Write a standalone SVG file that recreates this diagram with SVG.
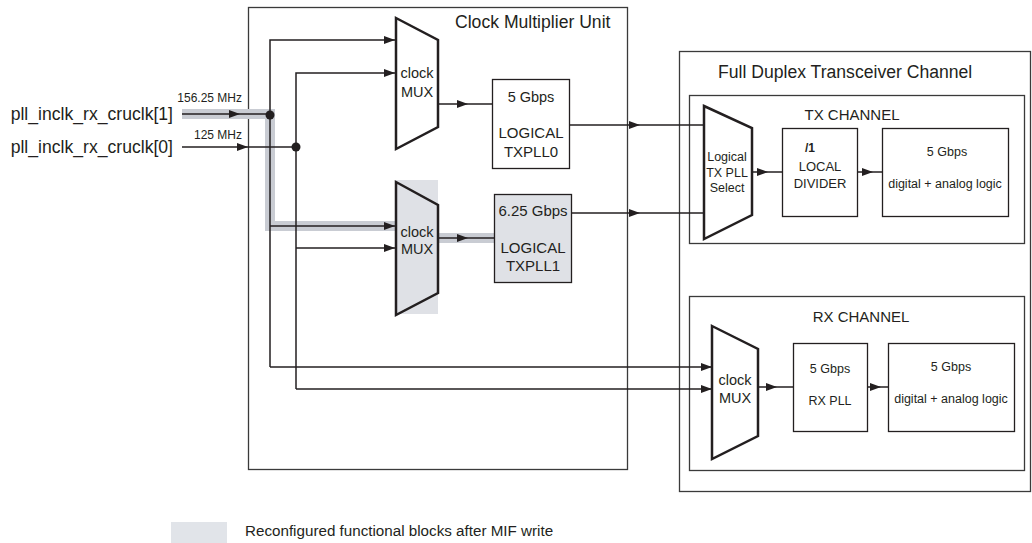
<svg xmlns="http://www.w3.org/2000/svg" width="1032" height="543" viewBox="0 0 1032 543">
<style>
text{font-family:"Liberation Sans",Arial,sans-serif;fill:#231f20}
.box{fill:#fff;stroke:#231f20;stroke-width:1.3}
.frame{fill:none;stroke:#3a3a3a;stroke-width:1.3}
.mux{fill:#fff;stroke:#231f20;stroke-width:2.5;stroke-linejoin:miter}
.gray{fill:#dfe1e6}
.w{fill:none;stroke:#231f20;stroke-width:1.5}
.a{fill:none;stroke:#231f20;stroke-width:1.5;marker-end:url(#ah)}
.hl{fill:none;stroke:#c9ccd3;stroke-width:10;stroke-linejoin:miter}
</style>
<defs>
<marker id="ah" markerUnits="userSpaceOnUse" markerWidth="12" markerHeight="8" refX="11" refY="4" orient="auto">
<path d="M0,0 L11,4 L0,8 z" fill="#231f20"/>
</marker>
</defs>

<g id="cmu">
<rect class="frame" x="248.5" y="7.5" width="379" height="462"/>
<text x="455" y="28" font-size="17.6">Clock Multiplier Unit</text>
</g>
<g id="fdtc">
<rect class="frame" x="679.5" y="51.5" width="351" height="440"/>
<text x="718" y="78" font-size="17.6">Full Duplex Transceiver Channel</text>
</g>
<g id="tx-channel">
<rect class="frame" x="689.5" y="95.5" width="335" height="148"/>
<text x="852" y="120" font-size="15" text-anchor="middle">TX CHANNEL</text>
</g>
<g id="rx-channel">
<rect class="frame" x="689.5" y="296.5" width="335" height="174"/>
<text x="861" y="322" font-size="15" text-anchor="middle">RX CHANNEL</text>
</g>

<g id="highlight">
<polyline class="hl" points="182,114 270,114 270,226 396,226"/>
<line class="hl" x1="438" y1="238" x2="494" y2="238"/>
</g>

<g id="connectors">
<path class="a" d="M182 114 H240"/>
<path class="w" d="M240 114 H270"/>
<path class="a" d="M182 147 H248"/>
<path class="w" d="M248 147 H296"/>
<path class="a" d="M270 367 V40 H395"/>
<path class="a" d="M296 389 V73 H395"/>
<path class="a" d="M270 226 H395"/>
<path class="a" d="M296 248 H395"/>
<path class="a" d="M270 367 H712"/>
<path class="a" d="M296 389 H712"/>
<path class="a" d="M438 104 H468"/>
<path class="w" d="M468 104 H492"/>
<path class="a" d="M438 238 H468"/>
<path class="w" d="M468 238 H494"/>
<path class="a" d="M569 125 H640"/>
<path class="w" d="M640 125 H704"/>
<path class="a" d="M567 213 H640"/>
<path class="w" d="M640 213 H704"/>
<path class="a" d="M752 172 H768"/>
<path class="w" d="M768 172 H782"/>
<path class="a" d="M857 172 H873"/>
<path class="w" d="M873 172 H882"/>
<path class="a" d="M758 387 H777"/>
<path class="w" d="M777 387 H793"/>
<path class="a" d="M867 387 H881"/>
<path class="w" d="M881 387 H888"/>
<circle cx="270" cy="115" r="4.5" fill="#231f20"/>
<circle cx="296" cy="147" r="4.5" fill="#231f20"/>
</g>

<g id="inputs">
<text x="173" y="120" font-size="17.6" text-anchor="end">pll_inclk_rx_cruclk[1]</text>
<text x="173" y="153" font-size="17.6" text-anchor="end">pll_inclk_rx_cruclk[0]</text>
<text x="242" y="102" font-size="12" text-anchor="end">156.25 MHz</text>
<text x="242" y="139" font-size="12" text-anchor="end">125 MHz</text>
</g>

<g id="mux1">
<polygon class="mux" points="396,18 438,40 438,127 396,149"/>
<text x="417" y="78" font-size="14.5" text-anchor="middle">clock</text>
<text x="417" y="97" font-size="14.5" text-anchor="middle">MUX</text>
</g>

<g id="txpll0">
<rect class="box" x="492.5" y="79.5" width="77" height="89"/>
<text x="531" y="102" font-size="14.5" text-anchor="middle">5 Gbps</text>
<text x="531" y="138" font-size="15" text-anchor="middle">LOGICAL</text>
<text x="531" y="157" font-size="15" text-anchor="middle">TXPLL0</text>
</g>

<g id="mux2">
<rect class="gray" x="396" y="180" width="42" height="134"/>
<polygon class="mux" points="396,182 438,205 438,293 396,315" style="fill:#dfe1e6"/>
<text x="417" y="237" font-size="14.5" text-anchor="middle">clock</text>
<text x="417" y="254" font-size="14.5" text-anchor="middle">MUX</text>
</g>

<g id="txpll1">
<rect class="box" x="494.5" y="194.5" width="77" height="88" style="fill:#dfe1e6"/>
<text x="533" y="216" font-size="15" text-anchor="middle">6.25 Gbps</text>
<text x="533" y="253" font-size="15" text-anchor="middle">LOGICAL</text>
<text x="533" y="271" font-size="15" text-anchor="middle">TXPLL1</text>
</g>

<g id="tx-select">
<polygon class="mux" points="704,106 752,128 752,215 704,239"/>
<text x="727" y="161" font-size="12.5" text-anchor="middle">Logical</text>
<text x="727" y="177" font-size="12.5" text-anchor="middle">TX PLL</text>
<text x="727" y="192" font-size="12.5" text-anchor="middle">Select</text>
</g>

<g id="local-divider">
<rect class="box" x="782.5" y="128.5" width="75" height="88"/>
<text x="810" y="152" font-size="12" font-weight="bold" text-anchor="middle">/1</text>
<text x="820" y="171" font-size="13" text-anchor="middle">LOCAL</text>
<text x="820" y="188" font-size="13" text-anchor="middle">DIVIDER</text>
</g>

<g id="tx-logic">
<rect class="box" x="882.5" y="128.5" width="126" height="88"/>
<text x="947" y="156" font-size="12.5" text-anchor="middle">5 Gbps</text>
<text x="945" y="188" font-size="12.5" text-anchor="middle">digital + analog logic</text>
</g>

<g id="rx-mux">
<polygon class="mux" points="712,326 758,349 758,436 712,459"/>
<text x="735" y="385" font-size="14.5" text-anchor="middle">clock</text>
<text x="735" y="403" font-size="14.5" text-anchor="middle">MUX</text>
</g>

<g id="rx-pll">
<rect class="box" x="793.5" y="343.5" width="74" height="88"/>
<text x="830" y="373" font-size="12.5" text-anchor="middle">5 Gbps</text>
<text x="830" y="405" font-size="12.5" text-anchor="middle">RX PLL</text>
</g>

<g id="rx-logic">
<rect class="box" x="888.5" y="343.5" width="126" height="88"/>
<text x="951" y="371" font-size="12.5" text-anchor="middle">5 Gbps</text>
<text x="951" y="403" font-size="12.5" text-anchor="middle">digital + analog logic</text>
</g>

<g id="legend">
<rect x="171" y="522" width="56" height="21" fill="#e1e4e9"/>
<text x="245" y="536" font-size="15.2">Reconfigured functional blocks after MIF write</text>
</g>
</svg>
